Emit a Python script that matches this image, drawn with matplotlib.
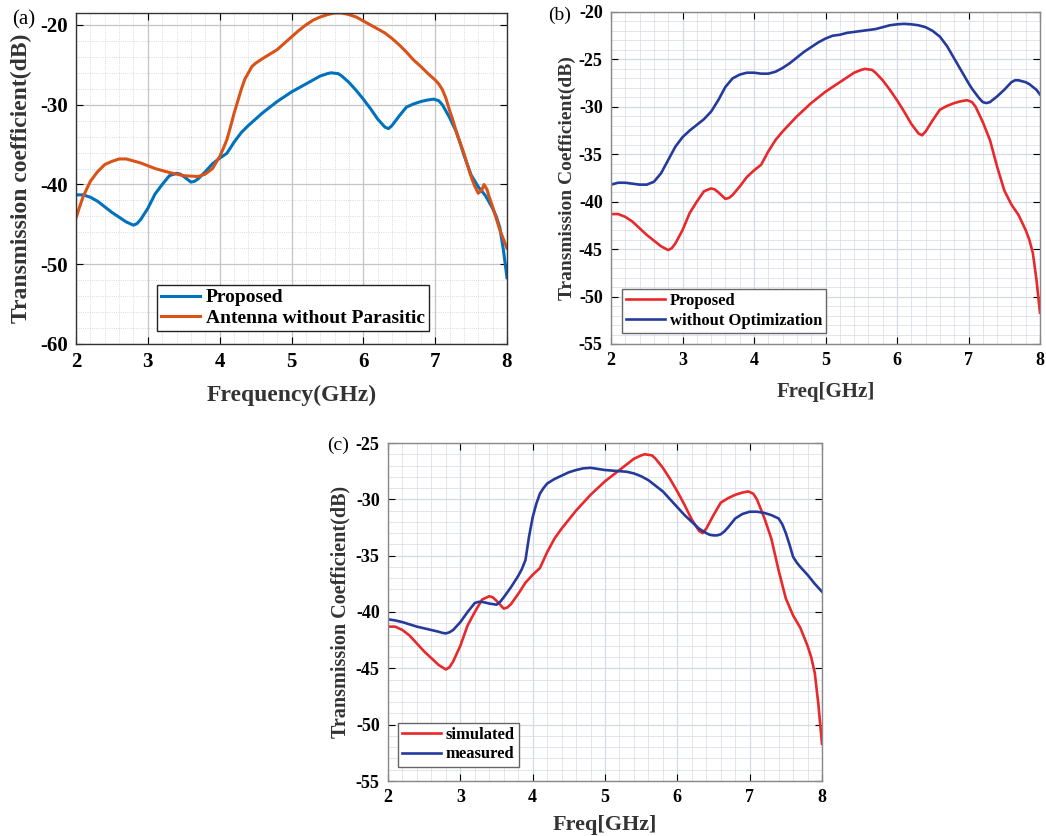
import numpy as np
import matplotlib
matplotlib.use("Agg")
import matplotlib.pyplot as plt
from matplotlib.ticker import MultipleLocator

plt.rcParams['font.family'] = ['Liberation Serif', 'DejaVu Serif']
plt.rcParams['axes.unicode_minus'] = False

# proposed antenna (same curve in all three panels)
f_prop = [2.0, 2.1, 2.2, 2.3, 2.4, 2.5, 2.6, 2.7, 2.8, 2.85, 2.9, 3.0, 3.1, 3.2, 3.3, 3.4,
          3.45, 3.5, 3.6, 3.65, 3.7, 3.8, 3.9, 4.0, 4.1, 4.2, 4.3, 4.4, 4.5, 4.6, 4.8, 5.0,
          5.2, 5.4, 5.5, 5.55, 5.65, 5.7, 5.8, 5.9, 6.0, 6.1, 6.2, 6.3, 6.35, 6.4, 6.5, 6.6,
          6.7, 6.8, 6.9, 6.98, 7.05, 7.1, 7.2, 7.3, 7.4, 7.5, 7.6, 7.7, 7.8, 7.85, 7.9, 7.95,
          8.0]
s_prop = [-41.3, -41.3, -41.6, -42.1, -42.8, -43.5, -44.1, -44.7, -45.1, -44.9, -44.4, -43.0,
          -41.2, -40.0, -38.9, -38.6, -38.7, -39.0, -39.7, -39.6, -39.3, -38.4, -37.4, -36.7,
          -36.1, -34.7, -33.5, -32.6, -31.8, -31.0, -29.6, -28.4, -27.4, -26.4, -26.1, -26.0,
          -26.1, -26.4, -27.2, -28.2, -29.3, -30.5, -31.8, -32.8, -33.0, -32.6, -31.4, -30.3,
          -29.9, -29.6, -29.4, -29.3, -29.5, -30.0, -31.6, -33.5, -36.3, -38.8, -40.3, -41.4,
          -43.0, -44.0, -45.4, -48.2, -51.7]

# (a) antenna without parasitic element
f_nopar = [2.0, 2.05, 2.1, 2.2, 2.3, 2.4, 2.5, 2.6, 2.7, 2.9, 3.1, 3.3, 3.5, 3.7, 3.8, 3.9,
           4.0, 4.05, 4.1, 4.15, 4.2, 4.25, 4.3, 4.35, 4.45, 4.5, 4.6, 4.8, 5.0, 5.1, 5.2, 5.3,
           5.4, 5.5, 5.6, 5.7, 5.8, 5.9, 6.0, 6.1, 6.2, 6.3, 6.4, 6.5, 6.6, 6.7, 6.8, 6.9,
           7.0, 7.05, 7.1, 7.15, 7.2, 7.25, 7.3, 7.35, 7.4, 7.45, 7.5, 7.55, 7.6, 7.65, 7.68,
           7.72, 7.75, 7.8, 7.9, 8.0]
s_nopar = [-44.2, -42.8, -41.5, -39.6, -38.4, -37.5, -37.1, -36.8, -36.8, -37.3, -38.0, -38.5,
           -38.9, -39.0, -38.7, -38.0, -36.5, -35.5, -34.4, -32.8, -31.1, -29.6, -28.1, -26.8,
           -25.2, -24.8, -24.2, -23.1, -21.5, -20.7, -20.0, -19.4, -19.0, -18.7, -18.5, -18.5,
           -18.7, -19.0, -19.5, -20.0, -20.5, -21.0, -21.7, -22.5, -23.4, -24.4, -25.2, -26.1,
           -26.9, -27.4, -28.1, -29.2, -30.7, -32.0, -33.6, -34.8, -36.1, -37.6, -39.0, -40.2,
           -41.1, -40.7, -40.0, -40.6, -41.5, -42.8, -45.7, -48.0]

# (b) without optimization
f_noopt = [2.0, 2.1, 2.2, 2.3, 2.4, 2.5, 2.6, 2.7, 2.8, 2.9, 3.0, 3.1, 3.2, 3.3, 3.4, 3.5,
           3.6, 3.7, 3.8, 3.9, 4.0, 4.1, 4.2, 4.3, 4.4, 4.5, 4.6, 4.7, 4.8, 4.9, 5.0, 5.1,
           5.2, 5.3, 5.4, 5.5, 5.6, 5.7, 5.8, 5.9, 6.0, 6.1, 6.2, 6.3, 6.4, 6.5, 6.6, 6.7,
           6.8, 6.9, 7.0, 7.05, 7.1, 7.15, 7.2, 7.25, 7.3, 7.4, 7.5, 7.6, 7.65, 7.7, 7.75,
           7.8, 7.85, 7.9, 7.95, 8.0]
s_noopt = [-38.2, -38.0, -38.0, -38.1, -38.2, -38.2, -37.9, -37.0, -35.6, -34.2, -33.2, -32.5,
           -31.9, -31.3, -30.5, -29.3, -27.9, -27.0, -26.6, -26.4, -26.4, -26.5, -26.5, -26.3,
           -25.9, -25.4, -24.8, -24.2, -23.7, -23.2, -22.8, -22.5, -22.4, -22.2, -22.1, -22.0,
           -21.9, -21.8, -21.6, -21.4, -21.3, -21.25, -21.3, -21.4, -21.6, -22.0, -22.6, -23.6,
           -24.9, -26.2, -27.5, -28.1, -28.6, -29.1, -29.5, -29.6, -29.5, -28.9, -28.2, -27.4,
           -27.2, -27.2, -27.3, -27.4, -27.6, -27.9, -28.2, -28.7]

# (c) measured
f_meas = [2.0, 2.1, 2.2, 2.3, 2.4, 2.5, 2.6, 2.7, 2.75, 2.8, 2.85, 2.9, 3.0, 3.1, 3.15, 3.2,
          3.25, 3.3, 3.4, 3.45, 3.5, 3.55, 3.6, 3.7, 3.8, 3.85, 3.9, 3.95, 4.0, 4.05, 4.1,
          4.15, 4.2, 4.3, 4.4, 4.5, 4.6, 4.7, 4.8, 4.9, 5.0, 5.1, 5.2, 5.3, 5.4, 5.5, 5.6,
          5.7, 5.8, 5.9, 6.0, 6.1, 6.2, 6.3, 6.4, 6.45, 6.5, 6.55, 6.6, 6.65, 6.7, 6.75, 6.8,
          6.85, 6.9, 6.95, 7.0, 7.1, 7.2, 7.3, 7.4, 7.45, 7.5, 7.55, 7.6, 7.65, 7.7, 7.8,
          7.9, 8.0]
s_meas = [-40.65, -40.75, -40.9, -41.1, -41.3, -41.45, -41.6, -41.75, -41.85, -41.9, -41.8,
          -41.6, -40.9, -40.0, -39.6, -39.2, -39.1, -39.1, -39.25, -39.3, -39.35, -39.1, -38.7,
          -37.8, -36.8, -36.2, -35.4, -33.3, -31.6, -30.4, -29.5, -29.0, -28.6, -28.2, -27.9,
          -27.6, -27.4, -27.25, -27.2, -27.3, -27.4, -27.45, -27.5, -27.55, -27.7, -27.95,
          -28.3, -28.8, -29.3, -30.0, -30.7, -31.4, -32.0, -32.6, -33.0, -33.15, -33.2, -33.2,
          -33.1, -32.85, -32.5, -32.1, -31.7, -31.5, -31.3, -31.2, -31.1, -31.1, -31.2, -31.4,
          -31.7, -32.2, -33.0, -34.0, -35.1, -35.6, -36.0, -36.7, -37.5, -38.2]

W, H = 1046, 836
fig = plt.figure(figsize=(W / 100, H / 100), dpi=100)


def px_axes(l, t, r, b):
    return fig.add_axes([l / W, 1 - b / H, (r - l) / W, (b - t) / H])


def style(ax, ysteps, ylim, tsize, gridcolor, minor_ls, spine):
    ax.set_xlim(2, 8)
    ax.set_ylim(*ylim)
    ax.xaxis.set_major_locator(MultipleLocator(1))
    ax.xaxis.set_minor_locator(MultipleLocator(0.2))
    ax.yaxis.set_major_locator(MultipleLocator(ysteps[0]))
    ax.yaxis.set_minor_locator(MultipleLocator(ysteps[1]))
    ax.tick_params(which='both', direction='in', top=True, right=True)
    ax.tick_params(which='major', length=5, labelsize=tsize, pad=6)
    ax.tick_params(which='minor', length=0)
    ax.grid(which='major', color=gridcolor, lw=0.9)
    ax.grid(which='minor', color=gridcolor, lw=0.6, ls=minor_ls, alpha=0.8)
    ax.set_axisbelow(True)
    for s in ax.spines.values():
        s.set_color(spine)
        s.set_linewidth(1.0)


def bold_ticks(ax):
    for lab in ax.get_xticklabels() + ax.get_yticklabels():
        lab.set_fontweight('bold')


leg_kw = dict(loc='upper left', bbox_transform=fig.transFigure, fancybox=False,
              framealpha=1, borderaxespad=0, handletextpad=0.3)

# (a)
ax1 = px_axes(76, 13, 507, 344)
ax1.plot(f_prop, s_prop, color='#0072BD', lw=2.2, label='Proposed')
ax1.plot(f_nopar, s_nopar, color='#D95319', lw=2.2, label='Antenna without Parasitic')
style(ax1, (10, 2), (-60, -18.5), 15, '#c4c4c4', ':', '#333333')
ax1.set_yticks([-60, -50, -40, -30, -20])
ax1.set_xlabel('Frequency(GHz)', fontsize=17, fontweight='bold', color='#333333', labelpad=9)
ax1.set_ylabel('Transmission coefficient(dB)', fontsize=17, fontweight='bold',
               color='#333333', labelpad=6)
bold_ticks(ax1)
ax1.legend(bbox_to_anchor=(157 / W, 1 - 285 / H), prop={'weight': 'bold', 'size': 14},
           edgecolor='#222222', borderpad=0.2, handlelength=2.0, labelspacing=0.15,
           **leg_kw)
fig.text(12 / W, 1 - 20 / H, '(a)', fontsize=15, va='center')

# (b)
ax2 = px_axes(611, 12, 1040, 344)
ax2.plot(f_prop, s_prop, color='#E8282B', lw=1.9, label='Proposed')
ax2.plot(f_noopt, s_noopt, color='#263A9C', lw=1.9, label='without Optimization')
style(ax2, (5, 1), (-55, -20), 13, '#d5dbe4', '-', '#888888')
ax2.set_xlabel('Freq[GHz]', fontsize=15, fontweight='bold', color='#333333', labelpad=9)
ax2.set_ylabel('Transmission Coefficient(dB)', fontsize=14, fontweight='bold',
               color='#333333', labelpad=2)
bold_ticks(ax2)
ax2.legend(bbox_to_anchor=(622 / W, 1 - 289 / H), prop={'weight': 'bold', 'size': 12},
           edgecolor='#666666', borderpad=0.25, handlelength=2.3, labelspacing=0.2,
           **leg_kw)
fig.text(548 / W, 1 - 15 / H, '(b)', fontsize=14, va='center')

# (c)
ax3 = px_axes(388, 443, 822, 781)
ax3.plot(f_prop, s_prop, color='#E8282B', lw=1.9, label='simulated')
ax3.plot(f_meas, s_meas, color='#263A9C', lw=1.9, label='measured')
style(ax3, (5, 1), (-55, -25), 13, '#d5dbe4', '-', '#888888')
ax3.set_xlabel('Freq[GHz]', fontsize=16, fontweight='bold', color='#333333', labelpad=6)
ax3.set_ylabel('Transmission Coefficient(dB)', fontsize=14.5, fontweight='bold',
               color='#333333', labelpad=4)
bold_ticks(ax3)
ax3.legend(bbox_to_anchor=(398 / W, 1 - 723 / H), prop={'weight': 'bold', 'size': 12},
           edgecolor='#666666', borderpad=0.25, handlelength=2.3, labelspacing=0.2,
           **leg_kw)
fig.text(327 / W, 1 - 445 / H, '(c)', fontsize=14, va='center')

fig.savefig('out.png', dpi=100)
